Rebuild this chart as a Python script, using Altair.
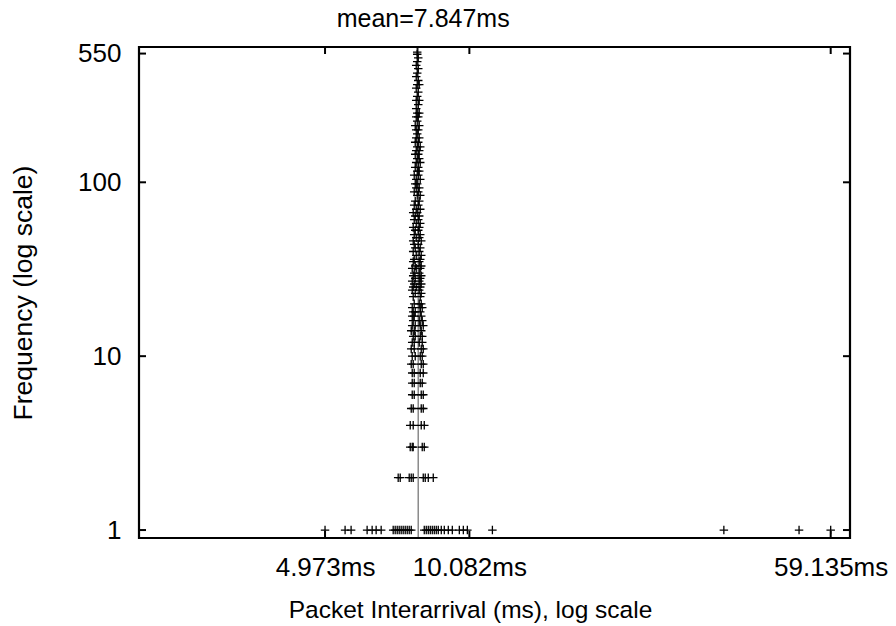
import altair as alt
import pandas as pd

# ---- data (interarrival in ms, frequency) ----
FREQ_LEVELS = [
    1, 2, 3, 4, 5, 6, 7, 8, 9, 10, 11, 12, 13, 14, 15, 16, 17, 18, 19, 20,
    22, 23, 24, 25, 26, 27, 28, 29, 30, 32, 33, 35, 36, 38, 40, 42, 44, 46,
    48, 50, 53, 55, 58, 61, 64, 67, 70, 74, 78, 84, 88, 93, 98, 104, 110,
    116, 122, 130, 137, 145, 152, 160, 170, 180, 190, 200, 212, 225, 238,
    250, 265, 280, 296, 312, 330, 348, 365, 385, 405, 425, 450, 470, 495,
    520, 545, 560,
]
X_AT_LEVEL = [
    [4.973, 5.486, 5.650, 6.111, 6.263, 6.387, 6.546, 6.943, 7.011, 7.081,
     7.150, 7.220, 7.291, 7.364, 7.437, 7.510, 7.584, 8.084, 8.163, 8.244,
     8.325, 8.407, 8.490, 8.573, 8.658, 8.786, 8.917, 9.093, 9.274, 9.598,
     9.788, 9.982, 11.285, 35.05, 50.65, 59.135],
    [7.115, 7.186, 7.510, 7.584, 7.658, 8.044, 8.123, 8.244, 8.448],
    [7.547, 7.621, 7.658, 8.004, 8.084],
    [7.547, 7.658, 7.965, 8.084],
    [7.584, 7.658, 7.965, 8.044],
    [7.621, 7.696, 7.965, 8.044],
    [7.621, 7.696, 7.926, 8.004],
    [7.621, 7.696, 7.926, 8.044],
    [7.584, 7.658, 7.965, 8.044],
    [7.621, 7.734, 7.926, 8.004],
    [7.584, 7.696, 7.965, 8.044],
    [7.621, 7.696, 7.887, 8.004],
    [7.658, 7.734, 7.926, 8.004],
    [7.584, 7.696, 7.965],
    [7.621, 7.734, 7.926, 8.044],
    [7.658, 7.887, 8.004],
    [7.621, 7.696, 7.965],
    [7.658, 7.734, 7.926],
    [7.621, 7.926, 8.004],
    [7.696, 7.887, 7.965],
    [7.658, 7.926],
    [7.734, 7.965],
    [7.621, 7.887],
    [7.658, 7.772, 7.926],
    [7.696, 7.965],
    [7.621, 7.887],
    [7.734, 7.926],
    [7.658, 7.965],
    [7.696, 7.887],
    [7.621, 7.772, 7.926],
    [7.734, 7.965],
    [7.658, 7.887],
    [7.696, 7.926],
    [7.772, 7.965],
    [7.658, 7.887],
    [7.734, 7.926],
    [7.696, 7.849],
    [7.658, 7.965],
    [7.772, 7.887],
    [7.696, 7.926],
    [7.734, 7.849],
    [7.658, 7.887],
    [7.772, 7.926],
    [7.696, 7.849],
    [7.734, 7.887],
    [7.658, 7.810],
    [7.772, 7.926],
    [7.696, 7.849],
    [7.734, 7.887],
    [7.810, 7.926],
    [7.696, 7.849],
    [7.772, 7.887],
    [7.734, 7.810],
    [7.772, 7.926],
    [7.696, 7.849],
    [7.810, 7.887],
    [7.734, 7.849],
    [7.772, 7.926],
    [7.810, 7.887],
    [7.734, 7.849],
    [7.772, 7.887],
    [7.810, 7.926],
    [7.734, 7.849],
    [7.772, 7.887],
    [7.810],
    [7.772, 7.849],
    [7.734, 7.887],
    [7.810],
    [7.772, 7.849],
    [7.810, 7.887],
    [7.772],
    [7.849],
    [7.772, 7.887],
    [7.810],
    [7.849],
    [7.772],
    [7.810, 7.887],
    [7.849],
    [7.772],
    [7.810],
    [7.849],
    [7.772],
    [7.810],
    [7.849],
    [7.810],
    [7.810],
]
MEAN_MS = 7.847
X_TICKS = [4.973, 10.082, 59.135]
Y_TICKS = [1, 10, 100, 550]
X_TITLE = "Packet Interarrival (ms), log scale"
Y_TITLE = "Frequency (log scale)"
TOP_LABEL = "mean=7.847ms"

rows = []
for f, xs in zip(FREQ_LEVELS, X_AT_LEVEL):
    for xv in xs:
        rows.append({"x": xv, "y": f})
pts = pd.DataFrame(rows)
xt = pd.DataFrame({"x": X_TICKS})
yt = pd.DataFrame({"y": Y_TICKS})
mean_df = pd.DataFrame({"x": [MEAN_MS], "label": [TOP_LABEL]})
frame_df = pd.DataFrame({"k": [0]})

W, H = 711, 491
FONT = "Liberation Sans"
FS = 25

xscale = alt.Scale(type="log", domain=[2, 65], nice=False)
yscale = alt.Scale(type="log", domain=[0.9, 600], nice=False)

xaxis = alt.Axis(
    values=X_TICKS, labelExpr="format(datum.value, '.3f') + 'ms'",
    ticks=False, tickSize=0, domain=False, grid=False,
    labelFont=FONT, labelFontSize=26, labelColor="black", labelPadding=16,
    labelFlush=False, labelOverlap=False,
    title=X_TITLE, titleFont=FONT, titleFontSize=24.5, titleFontWeight="normal",
    titleColor="black", titleX=331, titleY=79, titleBaseline="alphabetic",
    titleAlign="center",
)
yaxis = alt.Axis(
    values=Y_TICKS, format="d",
    ticks=False, tickSize=0, domain=False, grid=False,
    labelFont=FONT, labelFontSize=26, labelColor="black", labelPadding=18,
    labelFlush=False, labelOverlap=False,
    title=Y_TITLE, titleFont=FONT, titleFontSize=26.5, titleFontWeight="normal",
    titleColor="black", titleX=-108, titleY=H / 2, titleAngle=270,
    titleBaseline="alphabetic", titleAlign="center",
)

X = alt.X("x:Q", scale=xscale, axis=xaxis)
Y = alt.Y("y:Q", scale=yscale, axis=yaxis)

plus = "M-1,0L1,0M0,-1L0,1"

points = alt.Chart(pts).mark_point(
    shape=plus, size=72, filled=False, color="black", strokeWidth=1.3, opacity=1
).encode(x=X, y=Y)

mean_rule = alt.Chart(mean_df).mark_rule(color="#6e6e6e", strokeWidth=1.2).encode(
    x=X, y=alt.value(0), y2=alt.value(H)
)
mean_text = alt.Chart(mean_df).mark_text(
    font=FONT, fontSize=FS, color="black", baseline="alphabetic", align="center",
    dx=5
).encode(x=X, y=alt.value(-20), text="label:N")

TL = 7
TW = 2
xt_bottom = alt.Chart(xt).mark_rule(color="black", strokeWidth=TW).encode(
    x=X, y=alt.value(H), y2=alt.value(H - TL))
xt_top = alt.Chart(xt).mark_rule(color="black", strokeWidth=TW).encode(
    x=X, y=alt.value(0), y2=alt.value(TL))
yt_left = alt.Chart(yt).mark_rule(color="black", strokeWidth=TW).encode(
    y=Y, x=alt.value(0), x2=alt.value(TL))
yt_right = alt.Chart(yt).mark_rule(color="black", strokeWidth=TW).encode(
    y=Y, x=alt.value(W), x2=alt.value(W - TL))

frame = alt.Chart(frame_df).mark_rect(
    fill=None, filled=False, stroke="black", strokeWidth=2.2
).encode(x=alt.value(0), x2=alt.value(W), y=alt.value(0), y2=alt.value(H))

chart = alt.layer(
    mean_rule, points, xt_bottom, xt_top, yt_left, yt_right, frame, mean_text
).properties(
    width=W, height=H,
    autosize=alt.AutoSizeParams(type="none"),
    padding={"left": 139, "top": 47, "right": 46, "bottom": 88},
).configure_view(
    stroke=None, fill="white"
).configure(background="white")

chart.save("out.html", embed_options={"renderer": "svg", "actions": False})
